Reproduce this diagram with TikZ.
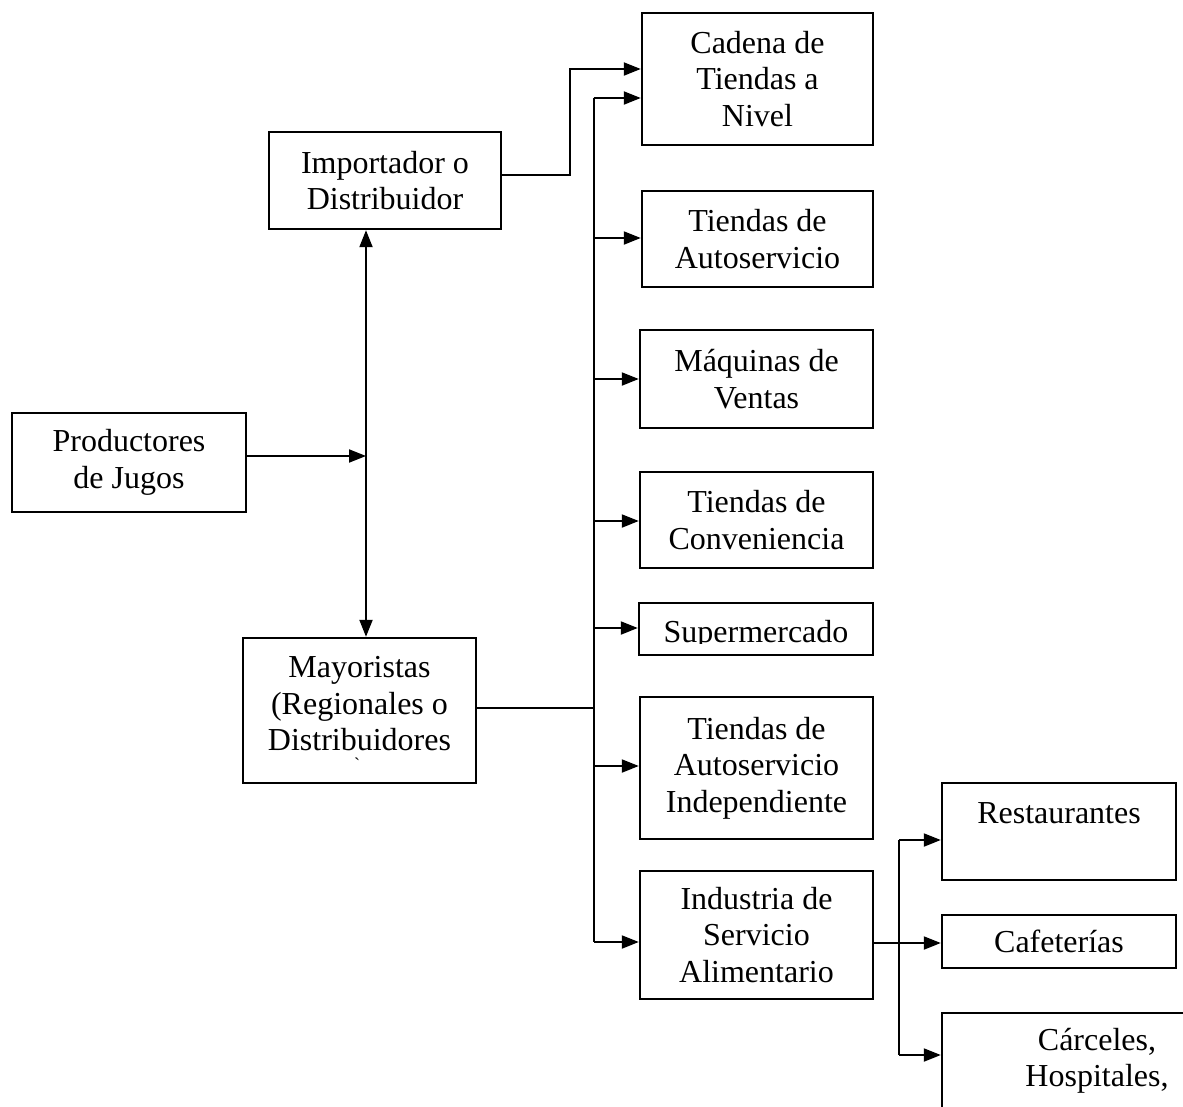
\documentclass[tikz,border=0pt]{standalone}
\usepackage{fontspec}
\setmainfont{Liberation Serif}
\usetikzlibrary{arrows.meta}
\begin{document}
\begin{tikzpicture}[x=1pt,y=-1pt,
  box/.style={draw, line width=2.4pt, inner sep=0pt, align=center, font=\fontsize{32}{36.5}\selectfont},
  txt/.style={inner sep=0pt, align=center, font=\fontsize{32}{36.5}\selectfont},
  conn/.style={line width=2pt},
  arr/.style={conn, -{Triangle[length=17pt,width=13pt]}},
  biarr/.style={conn, {Triangle[length=17pt,width=13pt]}-{Triangle[length=17pt,width=13pt]}},
]
\useasboundingbox (0,0) rectangle (1183,1106);
\clip (0,0) rectangle (1183,1106);

% left column
\node[box, minimum width=234pt, minimum height=99pt] (prod) at (129,462.5) {Productores\\de Jugos};
\node[box, minimum width=232pt, minimum height=97pt] (imp) at (385,180.5) {Importador o\\Distribuidor};
\node[box, minimum width=233pt, minimum height=145pt] (may) at (359.5,710.5) {};
\node[txt] (may-t) at (359.5,704) {Mayoristas\\(Regionales o\\Distribuidores};
\node[inner sep=0pt, font=\fontsize{18}{18}\selectfont] (mark) at (357,764) {\textasciigrave};

% right column
\node[box, minimum width=231pt, minimum height=132pt] (cad) at (757.5,79) {Cadena de\\Tiendas a\\Nivel};
\node[box, minimum width=231pt, minimum height=96pt] (ta) at (757.5,239) {Tiendas de\\Autoservicio};
\node[box, minimum width=233pt, minimum height=98pt] (maq) at (756.5,379) {Máquinas de\\Ventas};
\node[box, minimum width=233pt, minimum height=96pt] (conv) at (756.5,520) {Tiendas de\\Conveniencia};
\node[box, minimum width=234pt, minimum height=52pt] (sup) at (756,629) {};
\begin{scope}
  \clip (639,600) rectangle (873,643);
  \node[txt, anchor=base] (sup-t) at (756,642) {Supermercado};
\end{scope}
\node[box, minimum width=233pt, minimum height=142pt] (tai) at (756.5,768) {Tiendas de\\Autoservicio\\Independiente};
\node[box, minimum width=233pt, minimum height=128pt] (ind) at (756.5,935) {Industria de\\Servicio\\Alimentario};

% far right column
\node[box, minimum width=234pt, minimum height=97pt] (rest) at (1059,831.5) {};
\node[txt, anchor=base] (rest-t) at (1059,823) {Restaurantes};
\node[box, minimum width=234pt, minimum height=53pt] (caf) at (1059,941.5) {Cafeterías};
\node[box, minimum width=310pt, minimum height=160pt] (carc) at (1097,1093) {};
\node[txt] (carc-t) at (1097,1061) {Cárceles,\\Hospitales,};

% connectors: left
\coordinate (j1) at (366,456);
\draw[arr] (prod.east |- j1) -- (j1);
\draw[biarr] (imp.south -| j1) -- (may.north -| j1);

\coordinate (b1) at (570,175);
\coordinate (c1) at (570,69);
\draw[arr] (imp.east |- b1) -- (b1) -- (c1) -- (cad.west |- c1);

% main bus
\coordinate (bt) at (593.5,98);
\coordinate (bm) at (593.5,708);
\coordinate (bb) at (593.5,942);
\coordinate (b2) at (593.5,238);
\coordinate (b3) at (593.5,379);
\coordinate (b4) at (593.5,521);
\coordinate (b5) at (593.5,628);
\coordinate (b6) at (593.5,766);
\draw[conn] (may.east |- bm) -- (bm);
\draw[conn] (bt) -- (bb);
\draw[arr] (bt) -- (cad.west |- bt);
\draw[arr] (b2) -- (ta.west |- b2);
\draw[arr] (b3) -- (maq.west |- b3);
\draw[arr] (b4) -- (conv.west |- b4);
\draw[arr] (b5) -- (sup.west |- b5);
\draw[arr] (b6) -- (tai.west |- b6);
\draw[arr] (bb) -- (ind.west |- bb);

% sub bus
\coordinate (s1) at (899,840);
\coordinate (s2) at (899,943);
\coordinate (s3) at (899,1055);
\draw[arr] (ind.east |- s2) -- (caf.west |- s2);
\draw[conn] (s1) -- (s3);
\draw[arr] (s1) -- (rest.west |- s1);
\draw[arr] (s3) -- (carc.west |- s3);
\end{tikzpicture}
\end{document}
